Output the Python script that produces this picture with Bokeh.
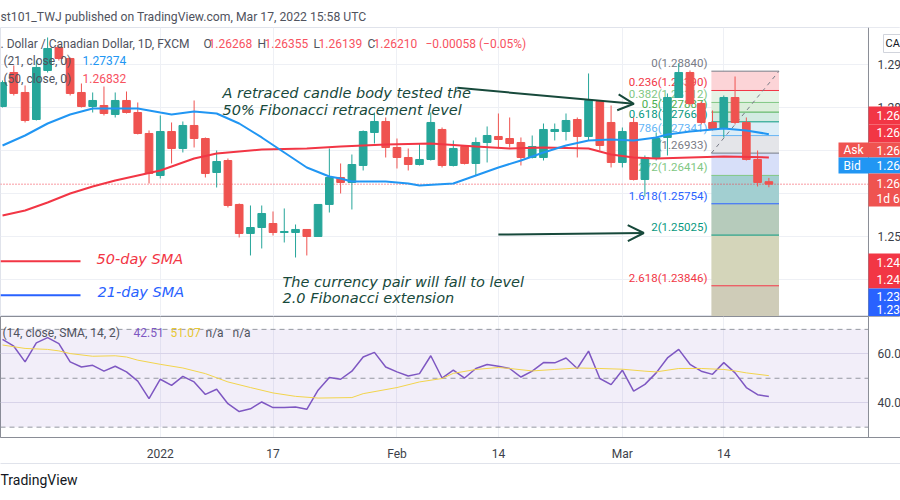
from bokeh.plotting import figure
from bokeh.layouts import column
from bokeh.models import (ColumnDataSource, Label, Span, BoxAnnotation, Arrow, OpenHead,
                          FixedTicker, Range1d, LinearAxis)
from bokeh.core.properties import value
from bokeh.embed import file_html
from bokeh.resources import INLINE

# ---------------- data ----------------
candle_idx = list(range(69))
opens = [1.28018, 1.28809, 1.28344, 1.27715, 1.28856, 1.29391, 1.29135, 1.28344, 1.28018, 1.28041,
         1.27832, 1.28158, 1.27878, 1.27390, 1.26412, 1.27436, 1.27041, 1.27576, 1.27273, 1.26482,
         1.26761, 1.25738, 1.25063, 1.25202, 1.25295, 1.25086, 1.25086, 1.25156, 1.24993, 1.25738,
         1.26366, 1.26250, 1.26645, 1.27413, 1.27669, 1.27064, 1.26831, 1.26668, 1.26785, 1.27483,
         1.26645, 1.27087, 1.26692, 1.27180, 1.27320, 1.27273, 1.27180, 1.26831, 1.26831, 1.27436,
         1.27436, 1.27715, 1.27320, 1.28134, 1.27646, 1.26715, 1.27646, 1.26319, 1.26831, 1.27297,
         1.28227, 1.28809, 1.28088, 1.27646, 1.27506, 1.28227, 1.27646, 1.26785, 1.26268]
highs = [1.28623, 1.28972, 1.28507, 1.29088, 1.29624, 1.29437, 1.29158, 1.28553, 1.28344, 1.28483,
         1.28344, 1.28367, 1.28111, 1.27460, 1.27809, 1.27646, 1.27669, 1.28158, 1.27297, 1.26994,
         1.26808, 1.25761, 1.25714, 1.25714, 1.25575, 1.25645, 1.25272, 1.25156, 1.25738, 1.27041,
         1.26692, 1.26901, 1.27460, 1.27878, 1.27762, 1.27273, 1.27041, 1.27157, 1.27878, 1.27529,
         1.27227, 1.27111, 1.27297, 1.27553, 1.27855, 1.27762, 1.27297, 1.27343, 1.27622, 1.27622,
         1.27855, 1.27762, 1.28786, 1.28158, 1.28041, 1.27529, 1.27762, 1.26878, 1.27413, 1.28321,
         1.29019, 1.28856, 1.28134, 1.27925, 1.28274, 1.28716, 1.27762, 1.26994, 1.26355]
lows = [1.27995, 1.28274, 1.27646, 1.27692, 1.28809, 1.29088, 1.28274, 1.27995, 1.27878, 1.27809,
        1.27762, 1.27855, 1.27367, 1.26226, 1.26343, 1.26692, 1.26948, 1.27064, 1.26366, 1.26133,
        1.25668, 1.24970, 1.24551, 1.24714, 1.25016, 1.24853, 1.24504, 1.24551, 1.24993, 1.25551,
        1.25994, 1.25621, 1.26529, 1.27157, 1.26831, 1.26575, 1.26529, 1.26645, 1.26761, 1.26599,
        1.26622, 1.26668, 1.26412, 1.26715, 1.27064, 1.27064, 1.26645, 1.26808, 1.26761, 1.27227,
        1.27227, 1.26831, 1.27227, 1.26994, 1.26599, 1.26599, 1.26296, 1.25924, 1.26761, 1.26878,
        1.28227, 1.28041, 1.27599, 1.27460, 1.27297, 1.27599, 1.26761, 1.26156, 1.26139]
closes = [1.28576, 1.28321, 1.27692, 1.28926, 1.29368, 1.29135, 1.28321, 1.28018, 1.28158, 1.27855,
          1.28158, 1.27878, 1.27390, 1.26459, 1.27436, 1.27041, 1.27576, 1.27273, 1.26459, 1.26738,
          1.25714, 1.25063, 1.25202, 1.25528, 1.25086, 1.25109, 1.25156, 1.24993, 1.25738, 1.26366,
          1.26250, 1.26668, 1.27436, 1.27669, 1.27064, 1.26831, 1.26668, 1.26785, 1.27646, 1.26645,
          1.27041, 1.26692, 1.27180, 1.27343, 1.27250, 1.27157, 1.26831, 1.27087, 1.27483, 1.27483,
          1.27692, 1.27320, 1.28158, 1.27111, 1.26715, 1.27436, 1.26319, 1.26831, 1.27273, 1.28227,
          1.28809, 1.28088, 1.27646, 1.27506, 1.28227, 1.27646, 1.26785, 1.26250, 1.26210]

sma21_idx = [0, 2, 4, 6, 8, 10, 12, 14, 15, 17, 19, 21, 23, 25, 27, 29, 30, 31, 33, 34,
             36, 37, 40, 42, 44, 46, 48, 50, 52, 54, 56, 58, 59, 61, 63, 64, 66, 68]
sma21_val = [1.27110, 1.27343, 1.27622, 1.27832, 1.27972, 1.27972, 1.27972, 1.27878, 1.27832, 1.27902,
             1.27855, 1.27622, 1.27297, 1.26948, 1.26599, 1.26389, 1.26343, 1.26273, 1.26273, 1.26273,
             1.26226, 1.26180, 1.26226, 1.26412, 1.26599, 1.26761, 1.26948, 1.27110, 1.27227, 1.27250,
             1.27227, 1.27297, 1.27367, 1.27436, 1.27483, 1.27506, 1.27460, 1.27374]
sma50_idx = [0, 2, 4, 6, 8, 10, 12, 14, 15, 17, 19, 21, 23, 27, 30, 34, 38, 42, 45, 48,
             52, 54, 56, 58, 61, 64, 68]
sma50_val = [1.25482, 1.25598, 1.25784, 1.25994, 1.26156, 1.26296, 1.26412, 1.26529, 1.26622, 1.26808,
             1.26924, 1.26971, 1.27017, 1.27041, 1.27087, 1.27134, 1.27157, 1.27087, 1.27041, 1.27064,
             1.27041, 1.26901, 1.26831, 1.26808, 1.26831, 1.26855, 1.26832]

rsi_val = [65.9, 63.1, 56.7, 64.5, 66.6, 64.2, 56.7, 54.6, 55.3, 52.9,
           54.9, 52.6, 48.8, 41.7, 49.6, 47.1, 50.8, 48.5, 43.4, 45.5,
           39.6, 36.4, 37.5, 40.3, 38.0, 38.0, 38.2, 37.3, 45.1, 50.3,
           49.6, 52.9, 58.7, 60.6, 54.6, 52.6, 50.9, 51.9, 59.2, 50.1,
           53.3, 50.1, 54.0, 55.6, 54.9, 54.0, 50.5, 52.9, 56.4, 56.3,
           58.3, 54.0, 61.1, 49.9, 47.4, 53.3, 44.7, 47.5, 52.2, 58.3,
           61.8, 55.7, 52.9, 51.6, 56.4, 52.2, 46.2, 43.3, 42.51]
rsi_sma_idx = [0, 2, 4, 5, 6, 8, 10, 11, 12, 14, 16, 18, 20, 22, 24, 26, 28, 31, 32, 35,
               37, 39, 40, 42, 44, 45, 47, 49, 51, 53, 55, 57, 58, 60, 62, 64, 65, 66, 68]
rsi_sma_val = [63.6, 62.2, 61.8, 61.2, 60.1, 59.0, 59.2, 58.7, 57.4, 55.7, 54.2, 51.9, 48.5, 46.2,
               44.0, 42.6, 41.9, 42.1, 43.7, 46.2, 48.5, 49.9, 52.0, 53.6, 54.4, 54.0, 53.0, 53.6,
               54.2, 54.0, 53.7, 52.9, 52.6, 54.0, 54.0, 53.6, 53.0, 52.2, 51.07]

tick_idx = [14, 24, 35, 44, 55, 64]
tick_labels = ["2022", "17", "Feb", "14", "Mar", "14"]
price_ticks = [1.24, 1.25, 1.26, 1.27, 1.28, 1.29]
rsi_ticks = [40, 60]
rsi_bands = [70, 50, 30]

fib_levels = [0, 0.236, 0.382, 0.5, 0.618, 0.786, 1, 1.272, 1.618, 2, 2.618, 3.618]
fib_prices = [1.28840, 1.28390, 1.28112, 1.27887, 1.27661, 1.27341, 1.26933, 1.26414,
              1.25754, 1.25025, 1.23846, 1.21939]
fib_x = [62.9, 68.9]
last_close = 1.26210

# annotation anchors (bar index, price)
arrow1 = [(40.35, 1.28453), (56.02, 1.28081)]
arrow2 = [(44.0, 1.25039), (56.9, 1.25074)]
legend_line_x = [-0.18, 6.92]
legend50_y = 1.24414
legend21_y = 1.23623

# ---------------- style / layout ----------------
UP, DN = "#26a69a", "#ef5350"
GRID = "#eef0f5"
GRAY_TXT = "#50535e"
AXIS_TXT = "#3c3f49"
ANN = "#17493b"
RED_TXT = "#f7525f"
fib_colors = ["#787b86", "#f23645", "#81c784", "#4caf50", "#089981", "#64b5f6", "#787b86",
              "#81c784", "#2962ff", "#089981", "#f23645", "#9c27b0"]
zone_colors = ["#fcd4d7", "#e6f3e6", "#dbeedb", "#d2ebe2", "#dcedf7", "#e4e5e9", "#d7dff9",
               "#a2cfd1", "#b6cbbb", "#d4d5ba", "#cfccb8"]

X0, X1 = -0.18, 79.68          # x range (bar index)
AXIS_X = 76.84                 # where the price scale begins
PY0, PY1 = 1.23131, 1.29856    # price pane range
RY0, RY1 = 25.77, 75.26        # RSI pane range
MAIN_BOTTOM = 316
RSI_BOTTOM = 437


def lab(fig, fb, text, X, Y, color, size="12px", font="Roboto", style="normal",
        align="left", baseline="middle"):
    fig.add_layout(Label(x=X, y=fb - Y, x_units="screen", y_units="screen", text=text,
                         text_color=color, text_font_size=size, text_font=font,
                         text_font_style=style, text_align=align, text_baseline=baseline))


def box(fig, fb, x0, x1, y0, y1, color, line=None):
    fig.add_layout(BoxAnnotation(left=x0, right=x1, top=fb - y0, bottom=fb - y1,
                                 left_units="screen", right_units="screen",
                                 top_units="screen", bottom_units="screen",
                                 fill_color=color, fill_alpha=1.0, line_color=line,
                                 line_alpha=1.0, line_width=1))


# ---------------- main pane ----------------
xr = Range1d(X0, X1)
p = figure(width=900, height=316, x_range=xr, y_range=Range1d(PY0, PY1),
           output_backend="svg", toolbar_location=None, x_axis_location=None,
           y_axis_location=None, min_border_left=0, min_border_right=0,
           min_border_top=27, min_border_bottom=0,
           title="st101_TWJ published on TradingView.com, Mar 17, 2022 15:58 UTC")
p.title.align = "left"
p.title.offset = 0
p.title.standoff = 7
p.title.text_font = "Roboto"
p.title.text_font_size = "12.2px"
p.title.text_font_style = "normal"
p.title.text_color = GRAY_TXT
p.background_fill_color = "white"
p.border_fill_color = "white"
p.outline_line_color = "#e0e3eb"
p.xgrid.ticker = FixedTicker(ticks=tick_idx)
p.ygrid.ticker = FixedTicker(ticks=price_ticks)
p.xgrid.grid_line_color = GRID
p.ygrid.grid_line_color = GRID

# fib drawing
p.quad(left=fib_x[0], right=fib_x[1], top=fib_prices[:-1], bottom=fib_prices[1:],
       fill_color=zone_colors, line_color=None)
p.segment(x0=fib_x[0], x1=fib_x[1], y0=fib_prices, y1=fib_prices, line_color=fib_colors, line_width=1)
p.line(x=fib_x, y=[fib_prices[6], fib_prices[0]], line_color="#787b86", line_dash="4 4", line_width=1)
nlab = len(fib_levels) - 1
fib_text = [f"{lv:g}({pr:.5f})" for lv, pr in zip(fib_levels[:nlab], fib_prices[:nlab])]
p.text(x=[fib_x[0]] * nlab, y=fib_prices[:nlab], text=fib_text, text_color=fib_colors[:nlab],
       text_align="right", text_baseline="bottom", x_offset=-4, y_offset=-1,
       text_font=value("Roboto"), text_font_size="11.5px")

# current price line
p.segment(x0=X0, x1=AXIS_X, y0=last_close, y1=last_close, line_color="#f23645",
          line_dash="1 2", line_width=1)

# candles
colors = [UP if c >= o else DN for o, c in zip(opens, closes)]
src = ColumnDataSource(dict(x=candle_idx, h=highs, l=lows,
                            top=[max(o, c) for o, c in zip(opens, closes)],
                            bot=[min(o, c) for o, c in zip(opens, closes)], color=colors))
p.segment(x0="x", x1="x", y0="h", y1="l", line_color="color", line_width=1, source=src)
p.vbar(x="x", width=0.68, top="top", bottom="bot", fill_color="color", line_color="color",
       line_width=1, source=src)

# SMAs
p.line(sma50_idx, sma50_val, line_color="#f23645", line_width=2)
p.line(sma21_idx, sma21_val, line_color="#2196f3", line_width=2)

# price scale
p.quad(left=AXIS_X, right=X1, top=PY1, bottom=PY0, fill_color="white", line_color=None)
p.add_layout(Span(location=AXIS_X, dimension="height", line_color="#8a8d96", line_width=1))
p.text(x=[AXIS_X] * len(price_ticks), y=price_ticks, text=[f"{t:.2f}" for t in price_ticks],
       x_offset=9, text_baseline="middle", text_color=AXIS_TXT,
       text_font=value("Roboto"), text_font_size="12px")

# arrows
for (ax0, ay0), (ax1, ay1) in (arrow1, arrow2):
    p.add_layout(Arrow(end=OpenHead(size=16, line_color=ANN, line_width=2),
                       x_start=ax0, y_start=ay0, x_end=ax1, y_end=ay1,
                       line_color=ANN, line_width=2))
p.add_layout(Arrow(end=None, x_start=legend_line_x[0], y_start=legend50_y, x_end=legend_line_x[1],
                   y_end=legend50_y, line_color="#f23645", line_width=2))
p.add_layout(Arrow(end=None, x_start=legend_line_x[0], y_start=legend21_y, x_end=legend_line_x[1],
                   y_end=legend21_y, line_color="#2962ff", line_width=2))

# annotation text
ft, fs = "DejaVu Sans", "14.5px"
lab(p, MAIN_BOTTOM, "A retraced candle body tested the", 222, 92, ANN, fs, ft, "italic")
lab(p, MAIN_BOTTOM, "50% Fibonacci retracement level", 222, 109, ANN, fs, ft, "italic")
lab(p, MAIN_BOTTOM, "The currency pair will fall to level", 282, 281, ANN, fs, ft, "italic")
lab(p, MAIN_BOTTOM, "2.0 Fibonacci extension", 282, 297, ANN, fs, ft, "italic")
lab(p, MAIN_BOTTOM, "50-day SMA", 96, 258, "#f23645", fs, ft, "italic")
lab(p, MAIN_BOTTOM, "21-day SMA", 97, 291, "#2962ff", fs, ft, "italic")

# series legend
lab(p, MAIN_BOTTOM, ". Dollar / Canadian Dollar, 1D, FXCM", 0, 43, GRAY_TXT)
for lt, lx, vt, vx in (("O", 203, "1.26268", 208), ("H", 257, "1.26355", 264),
                       ("L", 313, "1.26139", 318), ("C", 367, "1.26210", 373)):
    lab(p, MAIN_BOTTOM, lt, lx, 43, GRAY_TXT)
    lab(p, MAIN_BOTTOM, vt, vx, 43, RED_TXT)
lab(p, MAIN_BOTTOM, "\u22120.00058 (\u22120.05%)", 425, 43, RED_TXT)
lab(p, MAIN_BOTTOM, "(21, close, 0)", 3, 60, GRAY_TXT)
lab(p, MAIN_BOTTOM, "1.27374", 82, 60, "#2196f3")
lab(p, MAIN_BOTTOM, "(50, close, 0)", 3, 78, GRAY_TXT)
lab(p, MAIN_BOTTOM, "1.26832", 82, 78, RED_TXT)

# right-scale price tags
for bx0, by0, by1, col in ((868, 106, 124, "#f23645"), (868, 124, 142, "#f23645"),
                           (838, 142, 157, "#ef5350"), (838, 157, 173, "#2196f3"),
                           (868, 173, 206, "#ef5350"), (868, 253, 288, "#f23645"),
                           (868, 288, 316, "#2962ff")):
    box(p, MAIN_BOTTOM, bx0, 900, by0, by1, col)
for t, X, Y in (("1.26", 876, 115), ("1.26", 876, 132), ("Ask", 843, 149.5), ("1.26", 876, 149.5),
                ("Bid", 843, 165), ("1.26", 876, 165), ("1.26", 876, 183), ("1d 6", 876, 198),
                ("1.24", 876, 262), ("1.24", 876, 279), ("1.23", 876, 296), ("1.23", 876, 309)):
    lab(p, MAIN_BOTTOM, t, X, Y, "white")
box(p, MAIN_BOTTOM, 883, 904, 34, 52, "white", "#d1d4dc")
lab(p, MAIN_BOTTOM, "CA", 885, 43, "#131722", "11px")

# ---------------- RSI pane ----------------
r = figure(width=900, height=184, x_range=xr, y_range=Range1d(RY0, RY1),
           output_backend="svg", toolbar_location=None, y_axis_location=None,
           min_border_left=0, min_border_right=0, min_border_top=0, min_border_bottom=63,
           title="TradingView", title_location="below")
r.title.align = "left"
r.title.offset = 0
r.title.standoff = 12
r.title.text_font = "Roboto"
r.title.text_font_size = "14px"
r.title.text_font_style = "normal"
r.title.text_color = "#131722"
r.background_fill_color = "white"
r.border_fill_color = "white"
r.outline_line_color = "#8a8d96"
r.xgrid.ticker = FixedTicker(ticks=tick_idx)
r.ygrid.ticker = FixedTicker(ticks=rsi_ticks)
r.xgrid.grid_line_color = GRID
r.ygrid.grid_line_color = "#e3e1ee"

r.quad(left=X0, right=AXIS_X, bottom=rsi_bands[2], top=rsi_bands[0], fill_color="#7e57c2",
       fill_alpha=0.1, line_color=None)
r.segment(x0=X0, x1=AXIS_X, y0=rsi_bands, y1=rsi_bands, line_color="#9598a1",
          line_dash="5 4", line_width=1)
r.line(candle_idx, rsi_val, line_color="#7e57c2", line_width=1.5)
r.line(rsi_sma_idx, rsi_sma_val, line_color="#f2d44c", line_width=1)

r.quad(left=AXIS_X, right=X1, top=RY1, bottom=RY0, fill_color="white", line_color=None)
r.add_layout(Span(location=AXIS_X, dimension="height", line_color="#8a8d96", line_width=1))
r.text(x=[AXIS_X] * len(rsi_ticks), y=rsi_ticks, text=[f"{t:.1f}" for t in rsi_ticks],
       x_offset=9, text_baseline="middle", text_color=AXIS_TXT,
       text_font=value("Roboto"), text_font_size="12px")

rx = r.xaxis[0]
rx.ticker = FixedTicker(ticks=tick_idx)
rx.major_label_overrides = {t: s for t, s in zip(tick_idx, tick_labels)}
rx.major_tick_out = 0
rx.major_tick_in = 0
rx.minor_tick_out = 0
rx.minor_tick_in = 0
rx.major_label_text_font = "Roboto"
rx.major_label_text_font_size = "12px"
rx.major_label_text_color = AXIS_TXT
rx.axis_line_color = "#8a8d96"
rx.major_label_standoff = 9

# thin rule under the time scale
rule = LinearAxis(ticker=FixedTicker(ticks=[]), axis_line_color="#e0e3eb", axis_line_width=1,
                  major_tick_out=0, major_tick_in=0, minor_tick_out=0, minor_tick_in=0,
                  major_label_standoff=0)
r.add_layout(rule, "below")

lab(r, RSI_BOTTOM, "(14, close, SMA, 14, 2)", 2, 332, GRAY_TXT)
lab(r, RSI_BOTTOM, "42.51", 133, 332, "#7e57c2")
lab(r, RSI_BOTTOM, "51.07", 170, 332, "#e8c832")
lab(r, RSI_BOTTOM, "n/a", 205, 332, GRAY_TXT)
lab(r, RSI_BOTTOM, "n/a", 232, 332, GRAY_TXT)

layout = column(p, r, spacing=0)
open("out.html", "w").write(file_html(layout, INLINE))
